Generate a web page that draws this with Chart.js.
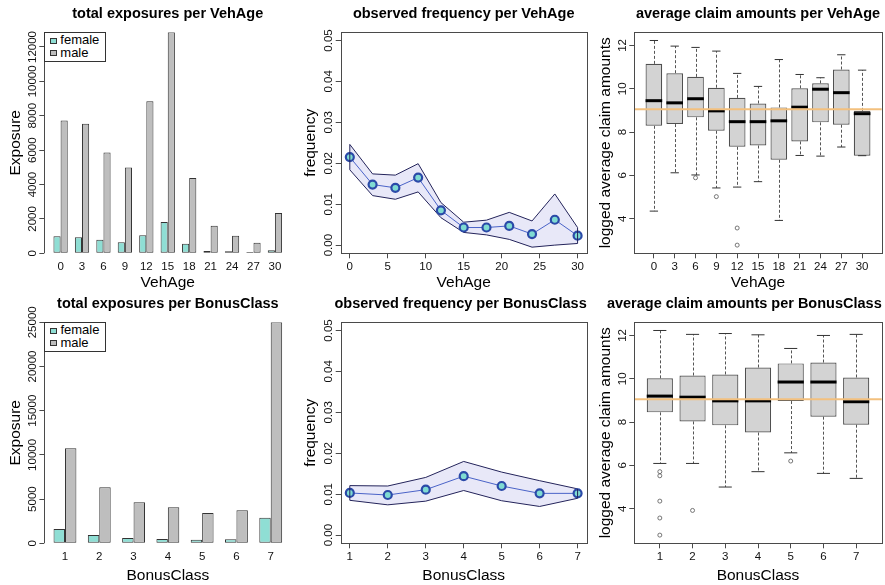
<!DOCTYPE html>
<html>
<head>
<meta charset="utf-8">
<script src="https://cdn.jsdelivr.net/npm/chart.js@4.4.1/dist/chart.umd.min.js"></script>
<style>
  html, body { margin: 0; padding: 0; background: #fff; }
  body { width: 885px; height: 585px; position: relative; overflow: hidden; }
  .panel { position: absolute; }
  .panel canvas { display: block; }
  .legend { position: absolute; border: 1px solid #333; background: #fff; padding: 1px 6px 2px 5px;
            font: 13px 'Liberation Sans', Arial, Helvetica, sans-serif; color: #000; }
  .lg-row { height: 12.6px; line-height: 12.6px; display: flex; align-items: center; white-space: nowrap; }
  .lg-sw { display: inline-block; width: 7px; height: 6px; border: 1px solid #333; box-sizing: border-box; margin-right: 3px; }
</style>
</head>
<body>
<div class="panel" id="p1" style="left:0;top:0"><canvas id="expVeh" width="295" height="290"></canvas></div>
<div class="panel" id="p2" style="left:295px;top:0"><canvas id="freqVeh" width="295" height="290"></canvas></div>
<div class="panel" id="p3" style="left:590px;top:0"><canvas id="claimVeh" width="295" height="290"></canvas></div>
<div class="panel" id="p4" style="left:0;top:290px"><canvas id="expBonus" width="295" height="295"></canvas></div>
<div class="panel" id="p5" style="left:295px;top:290px"><canvas id="freqBonus" width="295" height="295"></canvas></div>
<div class="panel" id="p6" style="left:590px;top:290px"><canvas id="claimBonus" width="295" height="295"></canvas></div>
<script>
// ----- categories -----
const vehAges = [0, 3, 6, 9, 12, 15, 18, 21, 24, 27, 30];
const bonusClasses = [1, 2, 3, 4, 5, 6, 7];

// ----- total exposures -----
const expFemaleVeh = [987, 929, 794, 639, 1045, 1820, 561, 135, 116, 77, 174];
const expMaleVeh = [7725, 7530, 5866, 4995, 8848, 12855, 4375, 1607, 1026, 620, 2343];
const expFemaleBonus = [1620, 940, 600, 490, 415, 450, 2900];
const expMaleBonus = [10740, 6330, 4640, 4070, 3430, 3730, 25000];

// ----- observed frequency with confidence band -----
const freqVeh = [0.0215, 0.0148, 0.0140, 0.0165, 0.0085, 0.0043, 0.0043, 0.0047, 0.0027, 0.0062, 0.0023];
const freqUpperVeh = [0.0246, 0.0174, 0.0171, 0.0199, 0.0104, 0.0056, 0.0061, 0.0080, 0.0059, 0.0125, 0.0043];
const freqLowerVeh = [0.0184, 0.0121, 0.0112, 0.0130, 0.0067, 0.0031, 0.0025, 0.0014, -0.0005, 0.0000, 0.0004];
const freqBonus = [0.0103, 0.0098, 0.0111, 0.0144, 0.0120, 0.0102, 0.0102];
const freqUpperBonus = [0.0121, 0.0120, 0.0141, 0.0180, 0.0154, 0.0133, 0.0113];
const freqLowerBonus = [0.0085, 0.0074, 0.0083, 0.0109, 0.0084, 0.0070, 0.0090];
const freqLimits = [0, 0.05];

// ----- logged average claim amounts: box statistics -----
const boxLowVeh = [4.35, 6.12, 6.02, 5.42, 5.46, 5.71, 3.92, 6.92, 6.89, 7.31, 6.91];
const boxQ1Veh = [8.29, 8.37, 8.68, 8.06, 7.32, 7.38, 6.72, 7.57, 8.45, 8.34, 6.91];
const boxMedVeh = [9.45, 9.35, 9.54, 8.98, 8.48, 8.48, 8.52, 9.15, 9.98, 9.82, 8.85];
const boxQ3Veh = [11.15, 10.72, 10.55, 10.05, 9.58, 9.32, 9.14, 10.02, 10.25, 10.89, 8.98];
const boxHighVeh = [12.23, 11.97, 11.91, 11.74, 10.71, 10.11, 11.35, 10.66, 10.51, 11.57, 10.86];
const outliersVeh = [[], [], [5.89], [5.02], [3.57, 2.78], [], [], [], [], [], []];

const boxLowBonus = [6.09, 6.09, 5.00, 5.71, 6.58, 5.63, 5.40];
const boxQ1Bonus = [8.45, 8.03, 7.85, 7.52, 8.97, 8.25, 7.88];
const boxMedBonus = [9.20, 9.15, 8.98, 8.98, 9.85, 9.85, 8.94];
const boxQ3Bonus = [10.02, 10.15, 10.20, 10.52, 10.71, 10.75, 10.06];
const boxHighBonus = [12.23, 12.05, 12.09, 12.03, 11.40, 12.00, 12.05];
const outliersBonus = [[5.71, 5.52, 4.35, 3.57, 2.78], [3.92], [], [], [6.20], [], []];
const claimMeanLog = 9.06;

// ----- tick labels -----
const expTicksVeh = [0, 2000, 4000, 6000, 8000, 10000, 12000];
const expTicksBonus = [0, 5000, 10000, 15000, 20000, 25000];
const freqTicks = [0, 0.01, 0.02, 0.03, 0.04, 0.05];
const freqXTicksVeh = [0, 5, 10, 15, 20, 25, 30];
const freqXTicksBonus = [1, 2, 3, 4, 5, 6, 7];
const claimTicks = [4, 6, 8, 10, 12];

// ----- styling -----
const FONT = "'Liberation Sans', Arial, Helvetica, sans-serif";
const TICK_SIZE = 11.5;
const TICK_FONT = { family: FONT, size: TICK_SIZE };
const AXIS_FONT = { family: FONT, size: 15.5, lineHeight: 1 };
const MAIN_FONT = { family: FONT, size: 14.5, weight: 'bold', lineHeight: 1.2 };
const TEXT_COL = '#111';
const AXIS_COL = '#4a4a4a';
const FEMALE_COL = '#8fded4';
const MALE_COL = '#bebebe';
const BAR_EDGE = '#333';
const TICK_LEN = 5;
const LABEL_GAP = 11.5;   // axis line to centre of rotated y labels
const X_LABEL_OFF = 6.5;  // tick length + padding for x labels
const TITLE_EDGE = 3.3;   // long titles stop this far from the canvas edge

// plot region inside each canvas (R style margins)
const ROW1 = { h: 290, bottom: 253.3, xTitlePad: 0 };
const ROW2 = { h: 295, bottom: 253.3, xTitlePad: 1.25 };

Chart.defaults.font.family = FONT;

const measureCtx = document.createElement('canvas').getContext('2d');
function yPadFor(labels) {
  measureCtx.font = TICK_SIZE + 'px ' + FONT;
  let w = 0;
  labels.forEach(function (l) { w = Math.max(w, measureCtx.measureText(l).width); });
  return LABEL_GAP - TICK_LEN - w / 2;
}

function mainTitle(text) {
  return { display: true, text: text, fullSize: false, font: MAIN_FONT, color: '#000',
           padding: { top: 5.3, bottom: 9.6 } };
}

function yScale(geo, ticks, fmt, title, min, max) {
  return {
    min: min, max: max,
    border: { display: false },
    grid: { drawOnChartArea: false, drawTicks: true, tickLength: TICK_LEN, color: AXIS_COL },
    afterBuildTicks: function (s) { s.ticks = ticks.map(function (v) { return { value: v }; }); },
    afterFit: function (s) { s.width = geo.left; },
    ticks: { minRotation: 90, maxRotation: 90, crossAlign: 'center', autoSkip: false,
             padding: yPadFor(ticks.map(fmt)), font: TICK_FONT, color: TEXT_COL,
             callback: function (v) { return fmt(v); } },
    title: { display: true, text: title, font: AXIS_FONT, color: '#000', padding: { top: 7.75, bottom: 0 } }
  };
}

function xScale(geo, min, max, ticks, labelFn, title, drawTicks) {
  return {
    type: 'linear', min: min, max: max, offset: false,
    border: { display: false },
    grid: { display: drawTicks, offset: false, drawOnChartArea: false, drawTicks: drawTicks,
            tickLength: drawTicks ? TICK_LEN : 0, color: AXIS_COL },
    afterBuildTicks: function (s) { s.ticks = ticks.map(function (v) { return { value: v }; }); },
    afterFit: function (s) { s.height = geo.h - geo.bottom; },
    ticks: { autoSkip: false, minRotation: 0, maxRotation: 0, font: TICK_FONT, color: TEXT_COL,
             padding: X_LABEL_OFF - (drawTicks ? TICK_LEN : 0),
             callback: function (v) { return labelFn(v); } },
    title: { display: true, text: title, font: AXIS_FONT, color: '#000',
             padding: { top: 0, bottom: geo.xTitlePad } }
  };
}

// R style axis pieces: full frame or a y axis line running tick to tick.
// The main title is centred on the plot region, but kept inside the canvas.
const rAxes = {
  id: 'rAxes',
  beforeDraw: function (chart) {
    const t = chart.titleBlock;
    if (!t || t._placed) { return; }
    const ctx = chart.ctx;
    ctx.save();
    ctx.font = 'bold ' + MAIN_FONT.size + 'px ' + FONT;
    const w = ctx.measureText(t.options.text).width;
    ctx.restore();
    let center = (t.left + t.right) / 2;
    center = Math.min(center, chart.width - TITLE_EDGE - w / 2);
    t.left = center - w / 2 - 20;
    t.right = center + w / 2 + 20;
    t.width = t.right - t.left;
    t._placed = true;
  },
  afterDraw: function (chart, args, opts) {
    const ctx = chart.ctx, a = chart.chartArea;
    ctx.save();
    ctx.strokeStyle = AXIS_COL;
    ctx.lineWidth = 1;
    if (opts.frame) {
      ctx.strokeRect(Math.round(a.left) + 0.5, Math.round(a.top) + 0.5,
                     Math.round(a.right) - Math.round(a.left), Math.round(a.bottom) - Math.round(a.top));
    }
    if (opts.yLine) {
      const ys = chart.scales.y, t = ys.ticks;
      const x = Math.round(a.left) + 0.5;
      ctx.beginPath();
      ctx.moveTo(x, ys.getPixelForValue(t[0].value));
      ctx.lineTo(x, ys.getPixelForValue(t[t.length - 1].value));
      ctx.stroke();
    }
    ctx.restore();
  }
};

// closes the confidence band at both ends
const bandEdges = {
  id: 'bandEdges',
  afterDatasetsDraw: function (chart, args, opts) {
    if (!opts.on) { return; }
    const up = chart.getDatasetMeta(1).data, lo = chart.getDatasetMeta(2).data;
    const ctx = chart.ctx;
    ctx.save();
    ctx.strokeStyle = '#23235a';
    ctx.lineWidth = 1;
    ctx.beginPath();
    [0, up.length - 1].forEach(function (i) {
      ctx.moveTo(up[i].x, up[i].y);
      ctx.lineTo(lo[i].x, lo[i].y);
    });
    ctx.stroke();
    ctx.restore();
  }
};

// whiskers, staples, medians and the reference line of the box plots
const boxDecor = {
  id: 'boxDecor',
  afterDatasetsDraw: function (chart, args, opts) {
    if (!opts.med) { return; }
    const ctx = chart.ctx, ys = chart.scales.y, a = chart.chartArea;
    const bars = chart.getDatasetMeta(0).data;
    ctx.save();
    bars.forEach(function (bar, i) {
      const p = bar.getProps(['x', 'width'], true);
      const half = p.width / 2;
      const x = Math.round(p.x) + 0.5;
      const yLo = ys.getPixelForValue(opts.low[i]), yHi = ys.getPixelForValue(opts.high[i]);
      const yQ1 = ys.getPixelForValue(opts.q1[i]), yQ3 = ys.getPixelForValue(opts.q3[i]);
      const yMed = ys.getPixelForValue(opts.med[i]);
      ctx.strokeStyle = '#555';
      ctx.lineWidth = 1;
      ctx.setLineDash([3, 2]);
      ctx.beginPath();
      ctx.moveTo(x, yQ3); ctx.lineTo(x, yHi);
      ctx.moveTo(x, yQ1); ctx.lineTo(x, yLo);
      ctx.stroke();
      ctx.setLineDash([]);
      ctx.strokeStyle = '#333';
      ctx.beginPath();
      ctx.moveTo(p.x - half / 2, yHi); ctx.lineTo(p.x + half / 2, yHi);
      ctx.moveTo(p.x - half / 2, yLo); ctx.lineTo(p.x + half / 2, yLo);
      ctx.stroke();
      ctx.strokeStyle = '#000';
      ctx.lineWidth = 3;
      ctx.beginPath();
      ctx.moveTo(p.x - half, yMed); ctx.lineTo(p.x + half, yMed);
      ctx.stroke();
    });
    const yRef = ys.getPixelForValue(opts.ref);
    ctx.strokeStyle = '#f3c07e';
    ctx.lineWidth = 2;
    ctx.beginPath();
    ctx.moveTo(a.left, yRef); ctx.lineTo(a.right, yRef);
    ctx.stroke();
    ctx.restore();
  }
};

function baseOptions(geo, title) {
  return {
    responsive: false,
    animation: false,
    events: [],
    layout: { padding: { left: 0, right: geo.right, top: 0, bottom: 0 }, autoPadding: false },
    plugins: {
      legend: { display: false },
      tooltip: { enabled: false },
      title: mainTitle(title)
    }
  };
}

function addLegend(chart, holder) {
  const a = chart.chartArea;
  const box = document.createElement('div');
  box.className = 'legend';
  box.style.left = a.left + 'px';
  box.style.top = a.top + 'px';
  chart.data.datasets.forEach(function (ds) {
    const row = document.createElement('div');
    row.className = 'lg-row';
    const sw = document.createElement('span');
    sw.className = 'lg-sw';
    sw.style.background = ds.backgroundColor;
    const tx = document.createElement('span');
    tx.textContent = ds.label;
    row.appendChild(sw);
    row.appendChild(tx);
    box.appendChild(row);
  });
  holder.appendChild(box);
}

// ----- grouped exposure bars (R barplot, beside = TRUE) -----
function exposureChart(id, holderId, geo, cats, female, male, yTicks, xTitle, title) {
  const centers = cats.map(function (c, i) { return 3 * i + 2; });
  const pad = 0.04 * (3 * cats.length - 1);
  const opts = baseOptions(geo, title);
  opts.scales = {
    x: xScale(geo, 1 - pad, 3 * cats.length + pad, centers,
              function (v) { return String(cats[centers.indexOf(v)]); }, xTitle, false),
    y: yScale(geo, yTicks, function (v) { return String(v); }, 'Exposure', 0,
              Math.max.apply(null, female.concat(male)))
  };
  opts.plugins.rAxes = { yLine: true };
  const bar = { borderColor: BAR_EDGE, borderWidth: 1, borderSkipped: false,
                categoryPercentage: 2 / 3, barPercentage: 1 };
  const chart = new Chart(document.getElementById(id), {
    type: 'bar',
    data: {
      datasets: [
        Object.assign({ label: 'female', backgroundColor: FEMALE_COL,
          data: centers.map(function (x, i) { return { x: x, y: female[i] }; }) }, bar),
        Object.assign({ label: 'male', backgroundColor: MALE_COL,
          data: centers.map(function (x, i) { return { x: x, y: male[i] }; }) }, bar)
      ]
    },
    options: opts,
    plugins: [rAxes]
  });
  addLegend(chart, document.getElementById(holderId));
}

// ----- observed frequency with band -----
function frequencyChart(id, geo, xs, freq, upper, lower, xTicks, xTitle, title) {
  const xPad = 0.04 * (xs[xs.length - 1] - xs[0]);
  const yPad = 0.04 * (freqLimits[1] - freqLimits[0]);
  const pts = function (arr) { return xs.map(function (x, i) { return { x: x, y: arr[i] }; }); };
  const opts = baseOptions(geo, title);
  opts.scales = {
    x: xScale(geo, xs[0] - xPad, xs[xs.length - 1] + xPad, xTicks,
              function (v) { return String(v); }, xTitle, true),
    y: yScale(geo, freqTicks, function (v) { return v.toFixed(2); }, 'frequency',
              freqLimits[0] - yPad, freqLimits[1] + yPad)
  };
  opts.plugins.rAxes = { frame: true };
  opts.plugins.bandEdges = { on: true };
  opts.plugins.filler = { drawTime: 'beforeDatasetsDraw' };
  new Chart(document.getElementById(id), {
    type: 'line',
    data: {
      datasets: [
        { label: 'observed frequency', data: pts(freq), borderColor: '#4a63c8', borderWidth: 1,
          pointRadius: 4, pointBorderWidth: 2.2, pointBackgroundColor: '#7fdbd2',
          pointBorderColor: '#2b4aa8', fill: false, tension: 0, order: 0 },
        { label: 'upper', data: pts(upper), borderColor: '#23235a', borderWidth: 1, pointRadius: 0,
          backgroundColor: '#e8e8f8', fill: '+1', tension: 0, order: 1 },
        { label: 'lower', data: pts(lower), borderColor: '#23235a', borderWidth: 1, pointRadius: 0,
          fill: false, tension: 0, order: 2 }
      ]
    },
    options: opts,
    plugins: [rAxes, bandEdges]
  });
}

// ----- box plots of logged average claim amounts -----
function claimChart(id, geo, cats, low, q1, med, q3, high, outliers, xTitle, title) {
  const n = cats.length;
  const pos = cats.map(function (c, i) { return i + 1; });
  const all = low.concat(high).concat([].concat.apply([], outliers));
  const lo = Math.min.apply(null, all), hi = Math.max.apply(null, all);
  const yPad = 0.04 * (hi - lo);
  const outPts = [];
  outliers.forEach(function (list, i) { list.forEach(function (v) { outPts.push({ x: i + 1, y: v }); }); });
  const opts = baseOptions(geo, title);
  opts.scales = {
    x: xScale(geo, 0.5 - 0.04 * n, n + 0.5 + 0.04 * n, pos,
              function (v) { return String(cats[v - 1]); }, xTitle, true),
    y: yScale(geo, claimTicks, function (v) { return String(v); }, 'logged average claim amounts',
              lo - yPad, hi + yPad)
  };
  opts.plugins.rAxes = { frame: true };
  opts.plugins.boxDecor = { low: low, q1: q1, med: med, q3: q3, high: high, ref: claimMeanLog };
  new Chart(document.getElementById(id), {
    type: 'bar',
    data: {
      datasets: [
        { label: 'claims', data: pos.map(function (x, i) { return { x: x, y: [q1[i], q3[i]] }; }),
          backgroundColor: '#d3d3d3', borderColor: '#505050', borderWidth: 1.2, borderSkipped: false,
          categoryPercentage: 0.8, barPercentage: 1 },
        { type: 'scatter', label: 'outliers', data: outPts, pointRadius: 2, pointBorderWidth: 0.8,
          pointBorderColor: '#555', pointBackgroundColor: 'rgba(0,0,0,0)' }
      ]
    },
    options: opts,
    plugins: [rAxes, boxDecor]
  });
}

exposureChart('expVeh', 'p1', Object.assign({ left: 44.3, right: 3.8 }, ROW1), vehAges,
              expFemaleVeh, expMaleVeh, expTicksVeh, 'VehAge', 'total exposures per VehAge');
frequencyChart('freqVeh', Object.assign({ left: 45.7, right: 3.3 }, ROW1), vehAges,
               freqVeh, freqUpperVeh, freqLowerVeh, freqXTicksVeh, 'VehAge', 'observed frequency per VehAge');
claimChart('claimVeh', Object.assign({ left: 44.3, right: 3.3 }, ROW1), vehAges,
           boxLowVeh, boxQ1Veh, boxMedVeh, boxQ3Veh, boxHighVeh, outliersVeh,
           'VehAge', 'average claim amounts per VehAge');
exposureChart('expBonus', 'p4', Object.assign({ left: 44.4, right: 3.7 }, ROW2), bonusClasses,
              expFemaleBonus, expMaleBonus, expTicksBonus, 'BonusClass', 'total exposures per BonusClass');
frequencyChart('freqBonus', Object.assign({ left: 45.7, right: 3.3 }, ROW2), bonusClasses,
               freqBonus, freqUpperBonus, freqLowerBonus, freqXTicksBonus, 'BonusClass',
               'observed frequency per BonusClass');
claimChart('claimBonus', Object.assign({ left: 44.3, right: 3.3 }, ROW2), bonusClasses,
           boxLowBonus, boxQ1Bonus, boxMedBonus, boxQ3Bonus, boxHighBonus, outliersBonus,
           'BonusClass', 'average claim amounts per BonusClass');
</script>
</body>
</html>
